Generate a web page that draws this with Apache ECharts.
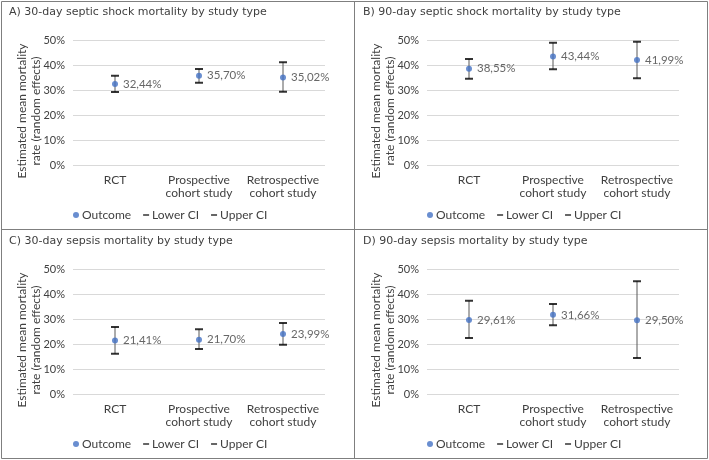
<!DOCTYPE html>
<html>
<head>
<meta charset="utf-8">
<script src="https://cdn.jsdelivr.net/npm/echarts@6/dist/echarts.min.js"></script>
<style>
  html, body { margin: 0; padding: 0; background: #fff; }
  #main { width: 709px; height: 460px; }
</style>
</head>
<body>
<div id="main"></div>
<script>
var categories = ['RCT', 'Prospective\ncohort study', 'Retrospective\ncohort study'];
var yTicks = [0, 10, 20, 30, 40, 50];

var titles = [
    'A) 30-day septic shock mortality by study type',
    'B) 90-day septic shock mortality by study type',
    'C) 30-day sepsis mortality by study type',
    'D) 90-day sepsis mortality by study type'
];

// estimated mean mortality (%), lower / upper CI
var outcomeA = [32.44, 35.70, 35.02];
var lowerA   = [29.2, 32.9, 29.3];
var upperA   = [35.7, 38.4, 41.1];

var outcomeB = [38.55, 43.44, 41.99];
var lowerB   = [34.5, 38.3, 34.7];
var upperB   = [42.4, 48.9, 49.3];

var outcomeC = [21.41, 21.70, 23.99];
var lowerC   = [16.1, 18.0, 19.7];
var upperC   = [26.8, 25.9, 28.4];

var outcomeD = [29.61, 31.66, 29.50];
var lowerD   = [22.4, 27.5, 14.4];
var upperD   = [37.3, 36.0, 45.1];

var panels = [
    {outcome: outcomeA, lower: lowerA, upper: upperA, x: 0,   y: 0},
    {outcome: outcomeB, lower: lowerB, upper: upperB, x: 354, y: 0},
    {outcome: outcomeC, lower: lowerC, upper: upperC, x: 0,   y: 229},
    {outcome: outcomeD, lower: lowerD, upper: upperD, x: 354, y: 229}
];

var font = 'Lato, "Noto Sans", sans-serif';
var titleFont = '"DejaVu Sans", sans-serif';
var textColor = '#404040';
var dash = 'path://M0,0h8v2h-8z';

var myChart = echarts.init(document.getElementById('main'));

var grid = [], xAxis = [], yAxis = [], series = [], title = [], legend = [], graphic = [];

panels.forEach(function (p, i) {
    title.push({
        text: titles[i],
        left: p.x + 9,
        top: p.y + 3,
        padding: 0,
        textStyle: {fontFamily: titleFont, fontSize: 11, fontWeight: 'normal', color: textColor, lineHeight: 18}
    });
    grid.push({left: p.x + 73, top: p.y + 40, width: 252, height: 125});
    xAxis.push({
        type: 'category',
        gridIndex: i,
        data: categories,
        axisLine: {show: false},
        axisTick: {show: false},
        axisLabel: {interval: 0, fontFamily: font, fontSize: 12, color: textColor, lineHeight: 13, margin: 9}
    });
    yAxis.push({
        type: 'value',
        gridIndex: i,
        min: yTicks[0],
        max: yTicks[yTicks.length - 1],
        interval: 10,
        axisLine: {show: false},
        axisTick: {show: false},
        splitLine: {lineStyle: {color: '#d9d9d9'}},
        axisLabel: {formatter: '{value}%', fontFamily: font, fontSize: 11, color: textColor, margin: 8}
    });
    // CI range line
    series.push({
        type: 'custom',
        xAxisIndex: i,
        yAxisIndex: i,
        silent: true,
        z: 1,
        data: categories.map(function (c, k) { return [k, p.lower[k], p.upper[k]]; }),
        renderItem: function (params, api) {
            var a = api.coord([api.value(0), api.value(1)]);
            var b = api.coord([api.value(0), api.value(2)]);
            return {
                type: 'line',
                shape: {x1: a[0], y1: a[1], x2: b[0], y2: b[1]},
                style: {stroke: '#595959', lineWidth: 1}
            };
        }
    });
    series.push({
        name: 'Lower CI',
        type: 'scatter',
        xAxisIndex: i,
        yAxisIndex: i,
        symbol: 'rect',
        symbolSize: [8, 2],
        itemStyle: {color: '#000'},
        z: 2,
        data: p.lower
    });
    series.push({
        name: 'Upper CI',
        type: 'scatter',
        xAxisIndex: i,
        yAxisIndex: i,
        symbol: 'rect',
        symbolSize: [8, 2],
        itemStyle: {color: '#000'},
        z: 2,
        data: p.upper
    });
    series.push({
        name: 'Outcome',
        type: 'scatter',
        xAxisIndex: i,
        yAxisIndex: i,
        symbol: 'circle',
        symbolSize: 6,
        itemStyle: {color: '#4472c4'},
        z: 3,
        label: {
            show: true,
            position: 'right',
            distance: 5,
            fontFamily: font,
            fontSize: 11.5,
            color: textColor,
            formatter: function (v) { return v.value.toFixed(2).replace('.', ',') + '%'; }
        },
        data: p.outcome
    });
    legend.push({
        left: p.x + 68,
        top: p.y + 204,
        itemWidth: 6,
        itemHeight: 6,
        itemGap: 12,
        textStyle: {fontFamily: font, fontSize: 12, color: textColor, padding: [0, 0, 0, -2]},
        data: [
            {name: 'Outcome', icon: 'circle'},
            {name: 'Lower CI', icon: dash, itemStyle: {color: '#000'}},
            {name: 'Upper CI', icon: dash, itemStyle: {color: '#000'}}
        ]
    });
    graphic.push({
        type: 'text',
        x: p.x + 29,
        y: p.y + 111,
        rotation: Math.PI / 2,
        style: {
            text: 'Estimated mean mortality\nrate (random effects)',
            fontFamily: font,
            fontSize: 12,
            lineHeight: 14,
            fill: textColor,
            align: 'center',
            verticalAlign: 'middle'
        }
    });
});

// panel frames
graphic.push({type: 'rect', shape: {x: 1.5, y: 1.5, width: 706, height: 457}, style: {fill: null, stroke: '#7f7f7f', lineWidth: 1}});
graphic.push({type: 'line', shape: {x1: 354.5, y1: 1, x2: 354.5, y2: 459}, style: {stroke: '#7f7f7f', lineWidth: 1}});
graphic.push({type: 'line', shape: {x1: 1, y1: 229.5, x2: 708, y2: 229.5}, style: {stroke: '#7f7f7f', lineWidth: 1}});

option = {
    animation: false,
    title: title,
    legend: legend,
    grid: grid,
    xAxis: xAxis,
    yAxis: yAxis,
    series: series,
    graphic: graphic
};
myChart.setOption(option);
</script>
</body>
</html>
